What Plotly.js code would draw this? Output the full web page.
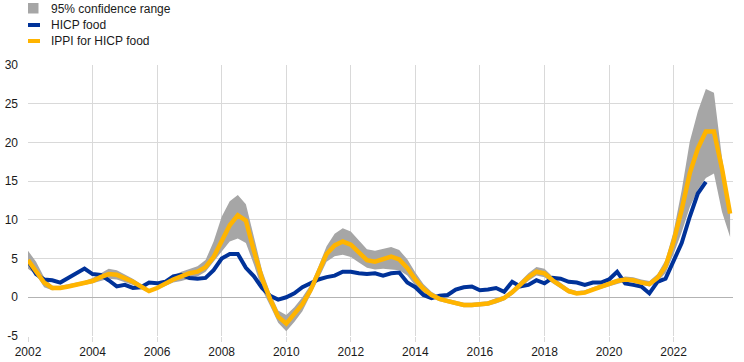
<!DOCTYPE html>
<html>
<head>
<meta charset="utf-8">
<script src="https://cdn.plot.ly/plotly-3.0.1.min.js"></script>
<style>
  html, body { margin: 0; padding: 0; background: #fff; }
  #chart { width: 744px; height: 362px; }
</style>
</head>
<body>
<div id="chart"></div>
<script>
// Quarterly observations, first quarter 2002 onwards
const startYear = 2002;
const hicpFood = [
  4.7, 3.0, 2.3, 2.2, 1.9, 2.5, 3.2, 3.7, 3.0, 2.9, 2.2, 1.4,
  1.6, 1.2, 1.3, 1.9, 1.8, 2.0, 2.7, 2.9, 2.5, 2.4, 2.5, 3.5,
  5.0, 5.6, 5.6, 3.8, 2.7, 1.2, 0.2, -0.3, 0.0, 0.5, 1.3, 1.8,
  2.3, 2.6, 2.8, 3.3, 3.3, 3.1, 3.0, 3.1, 2.8, 3.1, 3.2, 1.9,
  1.3, 0.3, -0.1, 0.2, 0.3, 1.0, 1.3, 1.4, 0.9, 1.0, 1.2, 0.7,
  2.0, 1.4, 1.6, 2.2, 1.8, 2.5, 2.4, 2.0, 1.9, 1.6, 1.9, 1.9,
  2.3, 3.3, 1.8, 1.6, 1.4, 0.5, 2.0, 2.4, 4.6, 7.0, 10.4, 13.4,
  14.9
];
const ippiFood = [
  4.8, 3.4, 1.9, 1.2, 1.2, 1.4, 1.6, 1.8, 2.1, 2.6, 3.0, 2.9,
  2.5, 2.0, 1.4, 0.8, 1.2, 1.8, 2.3, 2.7, 3.1, 3.3, 3.9, 5.2,
  7.2, 9.3, 10.6, 9.9, 6.0, 2.4, -0.2, -2.5, -3.4, -2.2, -0.9, 0.9,
  3.2, 5.6, 6.7, 7.2, 6.8, 5.8, 4.8, 4.6, 4.9, 5.25, 4.9, 3.8,
  2.3, 1.1, 0.3, -0.2, -0.5, -0.8, -1.0, -1.0, -0.9, -0.8, -0.45, -0.1,
  0.65, 1.6, 2.6, 3.3, 3.1, 2.2, 1.5, 0.8, 0.5, 0.6, 1.0, 1.4,
  1.8, 2.1, 2.3, 2.2, 1.9, 1.7, 2.5, 4.0, 7.2, 11.3, 16.0, 19.2,
  21.4, 21.4, 16.6, 10.8
];
const bandUpper = [
  6.0, 4.6, 2.6, 1.5, 1.5, 1.7, 1.9, 2.1, 2.5, 3.1, 3.7, 3.5,
  3.0, 2.4, 1.7, 1.0, 1.4, 2.1, 2.8, 3.3, 3.7, 4.0, 4.8, 7.2,
  10.4, 12.4, 13.2, 12.0, 7.8, 3.5, 0.6, -1.7, -2.3, -1.3, 0.0, 1.6,
  4.0, 6.6, 8.2, 8.9, 8.5, 7.3, 6.2, 6.0, 6.3, 6.5, 6.1, 4.9,
  3.2, 1.7, 0.7, 0.1, -0.2, -0.5, -0.7, -0.7, -0.6, -0.5, -0.1, 0.2,
  1.0, 2.0, 3.1, 3.9, 3.7, 2.7, 1.9, 1.1, 0.8, 0.9, 1.3, 1.7,
  2.1, 2.4, 2.7, 2.6, 2.3, 2.1, 3.0, 4.8, 8.5, 13.8, 20.1, 24.0,
  26.9, 26.4, 18.0, 11.5
];
const bandLower = [
  3.7, 2.9, 1.3, 0.9, 1.0, 1.2, 1.4, 1.6, 1.8, 2.1, 2.4, 2.3,
  2.0, 1.6, 1.1, 0.6, 1.0, 1.5, 1.9, 2.1, 2.4, 2.7, 3.3, 4.6,
  5.9, 7.2, 7.6, 7.0, 4.2, 1.0, -1.1, -3.3, -4.4, -3.2, -1.8, 0.2,
  2.4, 4.6, 5.3, 5.5, 5.2, 4.5, 3.8, 3.6, 3.7, 3.6, 3.5, 2.8,
  1.5, 0.5, -0.1, -0.5, -0.8, -1.1, -1.3, -1.3, -1.2, -1.1, -0.8, -0.4,
  0.3, 1.2, 2.1, 2.8, 2.6, 1.8, 1.2, 0.5, 0.3, 0.4, 0.8, 1.1,
  1.5, 1.8, 2.0, 1.9, 1.6, 1.4, 2.0, 3.1, 5.6, 8.4, 11.6, 13.9,
  15.4, 16.0, 11.0, 7.8
];
const xTickVals = [2002, 2004, 2006, 2008, 2010, 2012, 2014, 2016, 2018, 2020, 2022];
const yTickVals = [-5, 0, 5, 10, 15, 20, 25, 30];
const legendLabels = ['95% confidence range', 'HICP food', 'IPPI for HICP food'];

const colBand = '#a6a6a6', colBlue = '#003299', colYellow = '#ffb400';
const quarters = n => Array.from({length: n}, (_, i) => startYear + i * 0.25);

const traces = [
  { x: quarters(bandLower.length), y: bandLower, type: 'scatter', mode: 'lines',
    line: {width: 0, color: colBand}, hoverinfo: 'skip', showlegend: false },
  { x: quarters(bandUpper.length), y: bandUpper, type: 'scatter', mode: 'lines',
    fill: 'tonexty', fillcolor: colBand, line: {width: 0, color: colBand},
    name: legendLabels[0], showlegend: false },
  { x: quarters(hicpFood.length), y: hicpFood, type: 'scatter', mode: 'lines',
    line: {width: 4, color: colBlue}, name: legendLabels[1], showlegend: false },
  { x: quarters(ippiFood.length), y: ippiFood, type: 'scatter', mode: 'lines',
    line: {width: 4.5, color: colYellow}, name: legendLabels[2], showlegend: false }
];

// custom legend (paper coordinates)
const plotL = 28, plotR = 733, plotT = 65, plotB = 336;
const px = v => (v - plotL) / (plotR - plotL);
const py = v => (plotB - v) / (plotB - plotT);
const legendRows = [8.5, 25, 41];
const shapes = [
  { type: 'rect', xref: 'paper', yref: 'paper', x0: px(28), x1: px(38.5), y0: py(13.5), y1: py(3),
    fillcolor: colBand, line: {width: 0} },
  { type: 'line', xref: 'paper', yref: 'paper', x0: px(28), x1: px(40), y0: py(legendRows[1]), y1: py(legendRows[1]),
    line: {color: colBlue, width: 4} },
  { type: 'line', xref: 'paper', yref: 'paper', x0: px(28), x1: px(40), y0: py(legendRows[2]), y1: py(legendRows[2]),
    line: {color: colYellow, width: 4} }
];
const annotations = legendLabels.map((t, i) => ({
  text: t, xref: 'paper', yref: 'paper', x: px(49), y: py(legendRows[i]),
  xanchor: 'left', yanchor: 'middle', showarrow: false,
  font: {family: 'Liberation Sans, Arial, sans-serif', size: 12, color: '#1a1a1a'}
}));

const layout = {
  width: 744, height: 362,
  margin: {l: plotL, r: 744 - plotR, t: plotT, b: 362 - plotB, pad: 0},
  paper_bgcolor: '#fff', plot_bgcolor: '#fff',
  font: {family: 'Liberation Sans, Arial, sans-serif', size: 12, color: '#1a1a1a'},
  showlegend: false,
  xaxis: {
    range: [2002, 2023.84], tickvals: xTickVals, ticktext: xTickVals.map(String),
    showgrid: true, gridcolor: '#d9d9d9', gridwidth: 1,
    ticks: 'outside', ticklen: 5, tickcolor: '#d9d9d9',
    zeroline: false, showline: false, fixedrange: true
  },
  yaxis: {
    range: [-5, 30], tickvals: yTickVals, ticktext: yTickVals.map(String),
    showgrid: true, gridcolor: '#d9d9d9', gridwidth: 1,
    zeroline: true, zerolinecolor: '#b3b3b3', zerolinewidth: 1,
    ticks: '', ticklabelstandoff: 9, showline: false, fixedrange: true
  },
  shapes: shapes,
  annotations: annotations
};

Plotly.newPlot('chart', traces, layout, {displayModeBar: false, staticPlot: true});
</script>
</body>
</html>
